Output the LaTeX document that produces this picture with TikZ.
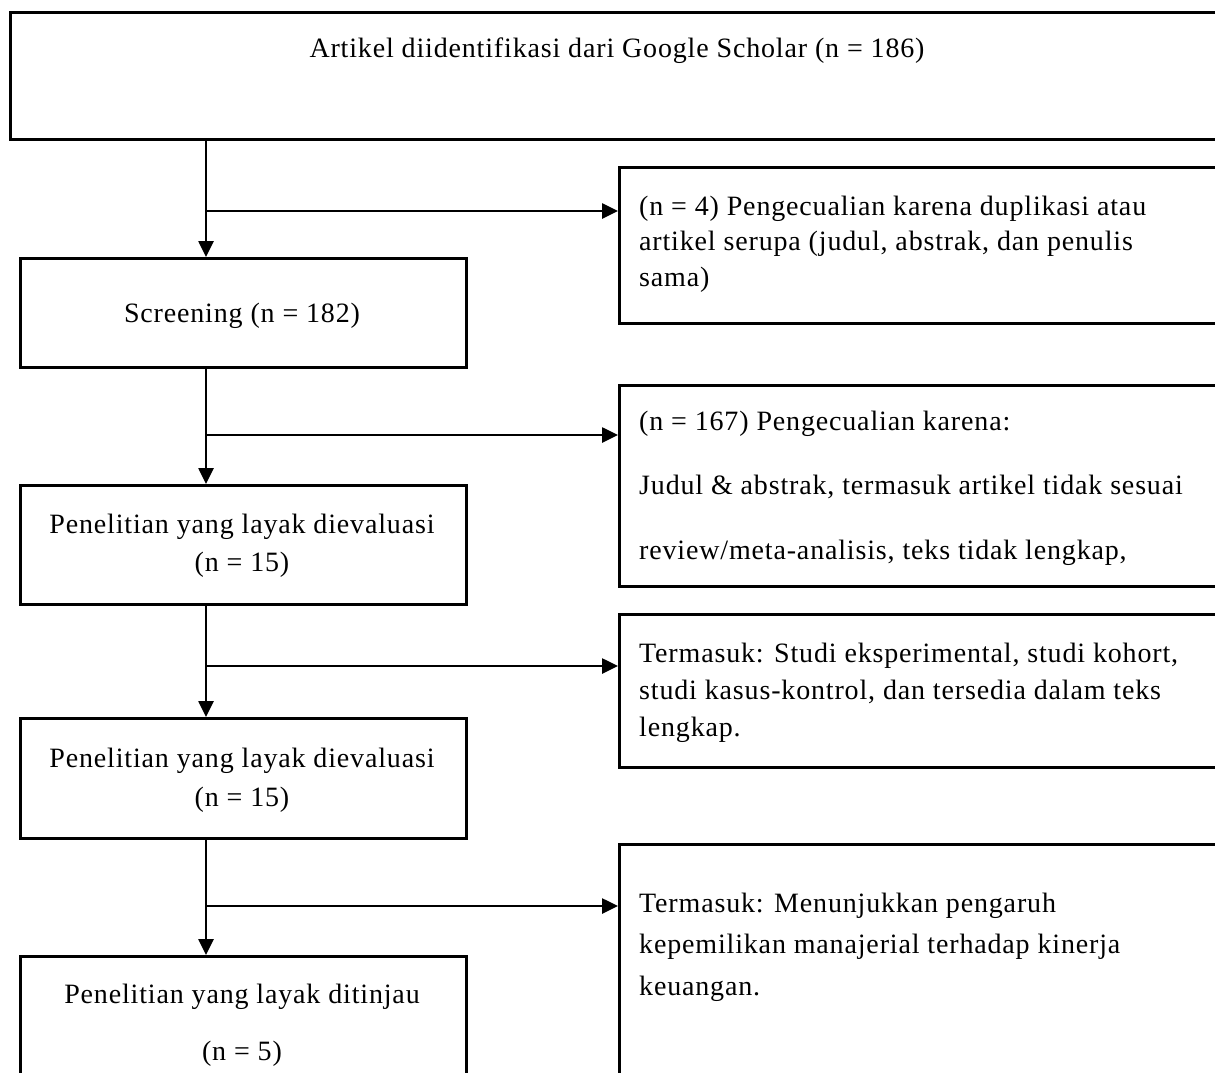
\documentclass[tikz,border=0pt]{standalone}
\usepackage{fontspec}
\setmainfont[LetterSpace=3]{Liberation Serif}
\usetikzlibrary{arrows.meta}
\tikzset{
  box/.style={draw=black, line width=3pt, rectangle, anchor=north west, inner sep=0pt},
  lbox/.style={box, minimum width=446pt},
  rbox/.style={box, minimum width=700pt},
  conn/.style={draw=black, line width=2.6pt},
  arr/.style={conn, -{Triangle[length=16pt,width=15pt]}},
  txt/.style={inner sep=0pt, anchor=base, font=\fontsize{28}{34}\selectfont},
  ltxt/.style={txt, anchor=base west},
}
\begin{document}
\begin{tikzpicture}[x=1pt,y=-1pt]
\useasboundingbox (0,0) rectangle (1215,1073);
\clip (0,0) rectangle (1215,1073);
\fill[white] (0,0) rectangle (1215,1073);
% boxes
\node[box, minimum width=1300pt, minimum height=127pt] (top) at (9,11) {};
\node[rbox, minimum height=156pt] (r1) at (618,166) {};
\node[lbox, minimum height=109pt] (screen) at (19,257) {};
\node[rbox, minimum height=201pt] (r2) at (618,384) {};
\node[lbox, minimum height=119pt] (pen1) at (19,484) {};
\node[rbox, minimum height=153pt] (r3) at (618,613) {};
\node[lbox, minimum height=120pt] (pen2) at (19,717) {};
\node[rbox, minimum height=400pt] (r4) at (618,843) {};
\node[lbox, minimum height=300pt] (pen3) at (19,955) {};
% texts
\node[txt] (ttop) at (617,58) {Artikel diidentifikasi dari Google Scholar (n = 186)};
\node[txt] (tscr) at (242,322) {Screening (n = 182)};
\node[txt] (tp1a) at (242,533) {Penelitian yang layak dievaluasi};
\node[txt] (tp1b) at (242,571) {(n = 15)};
\node[txt] (tp2a) at (242,767) {Penelitian yang layak dievaluasi};
\node[txt] (tp2b) at (242,806) {(n = 15)};
\node[txt] (tp3a) at (242,1003) {Penelitian yang layak ditinjau};
\node[txt] (tp3b) at (242,1060) {(n = 5)};
\node[ltxt] (tr1a) at (639,215) {(n = 4) Pengecualian karena duplikasi atau};
\node[ltxt] (tr1b) at (639,250) {artikel serupa (judul, abstrak, dan penulis};
\node[ltxt] (tr1c) at (639,286) {sama)};
\node[ltxt] (tr2a) at (639,430) {(n = 167) Pengecualian karena:};
\node[ltxt] (tr2b) at (639,494) {Judul \& abstrak, termasuk artikel tidak sesuai};
\node[ltxt] (tr2c) at (639,559) {review/meta-analisis, teks tidak lengkap,};
\node[ltxt] (tr3a) at (639,662) {Termasuk: Studi eksperimental, studi kohort,};
\node[ltxt] (tr3b) at (639,699) {studi kasus-kontrol, dan tersedia dalam teks};
\node[ltxt] (tr3c) at (639,736) {lengkap.};
\node[ltxt] (tr4a) at (639,912) {Termasuk: Menunjukkan pengaruh};
\node[ltxt] (tr4b) at (639,953) {kepemilikan manajerial terhadap kinerja};
\node[ltxt] (tr4c) at (639,995) {keuangan.};
% connectors
\coordinate (v) at (206,0);
\coordinate (b1) at (206,211);
\coordinate (b2) at (206,435);
\coordinate (b3) at (206,666);
\coordinate (b4) at (206,906);
\draw[arr] (top.south -| v) -- (screen.north -| v);
\draw[arr] (screen.south -| v) -- (pen1.north -| v);
\draw[arr] (pen1.south -| v) -- (pen2.north -| v);
\draw[arr] (pen2.south -| v) -- (pen3.north -| v);
\draw[arr] (b1) -- (r1.west |- b1);
\draw[arr] (b2) -- (r2.west |- b2);
\draw[arr] (b3) -- (r3.west |- b3);
\draw[arr] (b4) -- (r4.west |- b4);
\end{tikzpicture}
\end{document}
